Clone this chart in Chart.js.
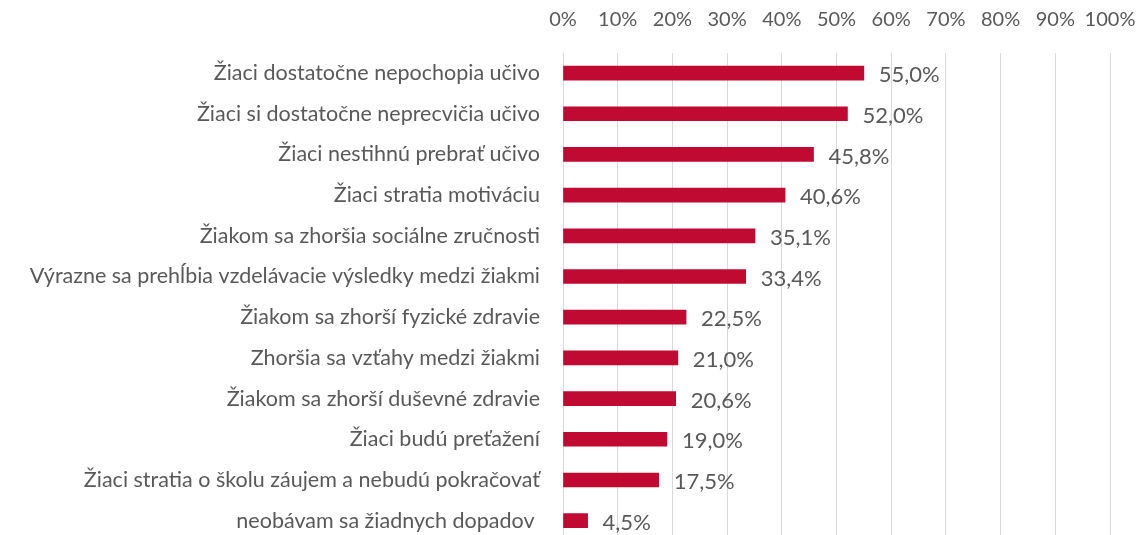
<!DOCTYPE html>
<html>
<head>
<meta charset="utf-8">
<script src="https://cdn.jsdelivr.net/npm/chart.js@4"></script>
<style>
  html, body { margin: 0; padding: 0; background: #fff; overflow: hidden; }
</style>
</head>
<body>
<canvas id="myChart" width="1145" height="541"></canvas>
<script>
var labels = [
    "Žiaci dostatočne nepochopia učivo",
    "Žiaci si dostatočne neprecvičia učivo",
    "Žiaci nestihnú prebrať učivo",
    "Žiaci stratia motiváciu",
    "Žiakom sa zhoršia sociálne zručnosti",
    "Výrazne sa prehĺbia vzdelávacie výsledky medzi žiakmi",
    "Žiakom sa zhorší fyzické zdravie",
    "Zhoršia sa vzťahy medzi žiakmi",
    "Žiakom sa zhorší duševné zdravie",
    "Žiaci budú preťažení",
    "Žiaci stratia o školu záujem a nebudú pokračovať",
    "neobávam sa žiadnych dopadov "
];
var values = [55.0, 52.0, 45.8, 40.6, 35.1, 33.4, 22.5, 21.0, 20.6, 19.0, 17.5, 4.5];

var fontFamily = "Lato, 'Open Sans', sans-serif";
var textColor = "#595959";

// draws the "55,0%" labels next to the bars
var valueLabels = {
    id: "valueLabels",
    afterDatasetsDraw: function (chart) {
        var ctx = chart.ctx;
        var meta = chart.getDatasetMeta(0);
        ctx.save();
        ctx.font = "22px " + fontFamily;
        ctx.fillStyle = textColor;
        ctx.textAlign = "left";
        ctx.textBaseline = "middle";
        meta.data.forEach(function (bar, i) {
            var text = values[i].toFixed(1).replace(".", ",") + "%";
            ctx.fillText(text, bar.x + 15, bar.y + 2);
        });
        ctx.restore();
    }
};

var ctx = document.getElementById("myChart").getContext("2d");

new Chart(ctx, {
    type: "bar",
    data: {
        labels: labels,
        datasets: [
            {
                data: values,
                backgroundColor: "#C00A32",
                barThickness: 14
            }
        ]
    },
    options: {
        indexAxis: "y",
        responsive: false,
        animation: false,
        layout: {
            padding: { top: 8, right: 35, bottom: 0, left: 0 }
        },
        plugins: {
            legend: { display: false },
            tooltip: { enabled: false }
        },
        scales: {
            x: {
                position: "top",
                min: 0,
                max: 100,
                afterFit: function (scale) {
                    scale.height = 44.7;
                    scale.paddingLeft = 0;
                    scale.paddingRight = 0;
                },
                ticks: {
                    stepSize: 10,
                    padding: 20.7,
                    maxRotation: 0,
                    color: textColor,
                    font: { family: fontFamily, size: 20 },
                    callback: function (v) { return v + "%"; }
                },
                grid: {
                    color: "#d9d9d9",
                    drawTicks: false
                },
                border: { display: false }
            },
            y: {
                afterFit: function (scale) {
                    scale.width = 563;
                    scale.paddingTop = 0;
                    scale.paddingBottom = 0;
                },
                ticks: {
                    padding: 15,
                    color: textColor,
                    font: { family: fontFamily, size: 21.5 }
                },
                grid: { display: false },
                border: { display: false }
            }
        }
    },
    plugins: [valueLabels]
});
</script>
</body>
</html>
